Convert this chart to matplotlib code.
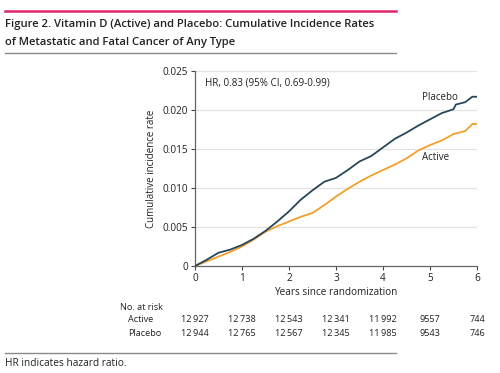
import matplotlib
matplotlib.use("Agg")
import matplotlib.pyplot as plt
from matplotlib.lines import Line2D

plt.rcParams['font.family'] = ['Open Sans', 'DejaVu Sans']

# Data
years = [0, 0.25, 0.5, 0.75, 1.0, 1.25, 1.5, 1.75, 2.0, 2.25, 2.5, 2.75, 3.0, 3.25,
         3.5, 3.75, 4.0, 4.25, 4.5, 4.75, 5.0, 5.25, 5.5, 5.55, 5.75, 5.9, 6.0]
placebo = [0, 0.0008, 0.0017, 0.0021, 0.0027, 0.0035, 0.0045, 0.0057, 0.0070, 0.0085,
           0.0097, 0.0108, 0.0113, 0.0123, 0.0134, 0.0141, 0.0152, 0.0163, 0.0171,
           0.0180, 0.0188, 0.0196, 0.0201, 0.0207, 0.0210, 0.0217, 0.0217]
active = [0, 0.0006, 0.0012, 0.0018, 0.0025, 0.0034, 0.0044, 0.0051, 0.0057, 0.0063,
          0.0068, 0.0078, 0.0089, 0.0099, 0.0108, 0.0116, 0.0123, 0.0130, 0.0138,
          0.0148, 0.0155, 0.0161, 0.0169, 0.0170, 0.0173, 0.0182, 0.0182]

xticks = [0, 1, 2, 3, 4, 5, 6]
yticks = [0, 0.005, 0.010, 0.015, 0.020, 0.025]
ytick_labels = ['0', '0.005', '0.010', '0.015', '0.020', '0.025']
risk_active = ['12\u2009927', '12\u2009738', '12\u2009543', '12\u2009341', '11\u2009992', '9557', '744']
risk_placebo = ['12\u2009944', '12\u2009765', '12\u2009567', '12\u2009345', '11\u2009985', '9543', '746']

W, H = 500, 373
fig = plt.figure(figsize=(5, 3.73), dpi=100)

def fx(px):
    return px / W

def fy(py):
    return 1 - py / H

TXT = '#222222'

# Header lines and title
fig.add_artist(Line2D([fx(5), fx(396)], [fy(11), fy(11)], color='#e0246e', lw=1.8))
fig.text(fx(5), fy(25), 'Figure 2. Vitamin D (Active) and Placebo: Cumulative Incidence Rates',
         fontsize=8.1, fontweight='semibold', color=TXT, va='center', ha='left')
fig.text(fx(5), fy(42), 'of Metastatic and Fatal Cancer of Any Type',
         fontsize=8.1, fontweight='semibold', color=TXT, va='center', ha='left')
fig.add_artist(Line2D([fx(5), fx(396)], [fy(53), fy(53)], color='#8a8a8a', lw=1.0))

# Axes
left, right, top, bottom = 195, 477, 71, 266
ax = fig.add_axes([fx(left), fy(bottom), (right - left) / W, (bottom - top) / H])
ax.set_xlim(0, 6)
ax.set_ylim(0, 0.025)

for yv in yticks[1:]:
    ax.axhline(yv, color='#e3e3e3', lw=0.9, zorder=0)

ax.plot(years, placebo, color='#27475a', lw=1.3, zorder=3)
ax.plot(years, active, color='#f0a02c', lw=1.3, zorder=2)

for s in ['top', 'right']:
    ax.spines[s].set_visible(False)
for s in ['left', 'bottom']:
    ax.spines[s].set_color('#666666')
    ax.spines[s].set_linewidth(0.9)

ax.set_xticks(xticks)
ax.set_xticklabels([str(x) for x in xticks])
ax.set_yticks(yticks)
ax.set_yticklabels(ytick_labels)
ax.tick_params(axis='both', labelsize=7.2, colors='#444444', length=3, width=0.8, pad=2)
ax.tick_params(axis='both', labelcolor=TXT)

ax.set_xlabel('Years since randomization', fontsize=7.2, color=TXT, labelpad=2)
ax.set_ylabel('Cumulative incidence rate', fontsize=7.0, color=TXT, labelpad=4)

ax.text(0.21, 0.0235, 'HR, 0.83 (95% CI, 0.69-0.99)', fontsize=7.1, color=TXT,
        va='center', ha='left')
ax.text(4.83, 0.02154, 'Placebo', fontsize=7.0, color=TXT, va='center', ha='left')
ax.text(4.83, 0.01397, 'Active', fontsize=7.0, color=TXT, va='center', ha='left')

# Number at risk table
fig.text(fx(120), fy(307), 'No. at risk', fontsize=6.6, color=TXT, va='center', ha='left')
fig.text(fx(128), fy(320), 'Active', fontsize=6.6, color=TXT, va='center', ha='left')
fig.text(fx(128), fy(333), 'Placebo', fontsize=6.6, color=TXT, va='center', ha='left')
for xv, a, p in zip(xticks, risk_active, risk_placebo):
    px = left + (right - left) * xv / 6
    fig.text(fx(px), fy(320), a, fontsize=6.6, color=TXT, va='center', ha='center')
    fig.text(fx(px), fy(333), p, fontsize=6.6, color=TXT, va='center', ha='center')

# Footer
fig.add_artist(Line2D([fx(5), fx(396)], [fy(353), fy(353)], color='#8a8a8a', lw=1.0))
fig.text(fx(5), fy(364), 'HR indicates hazard ratio.', fontsize=7.3, color=TXT,
         va='center', ha='left')

fig.savefig('out.png', dpi=100)
